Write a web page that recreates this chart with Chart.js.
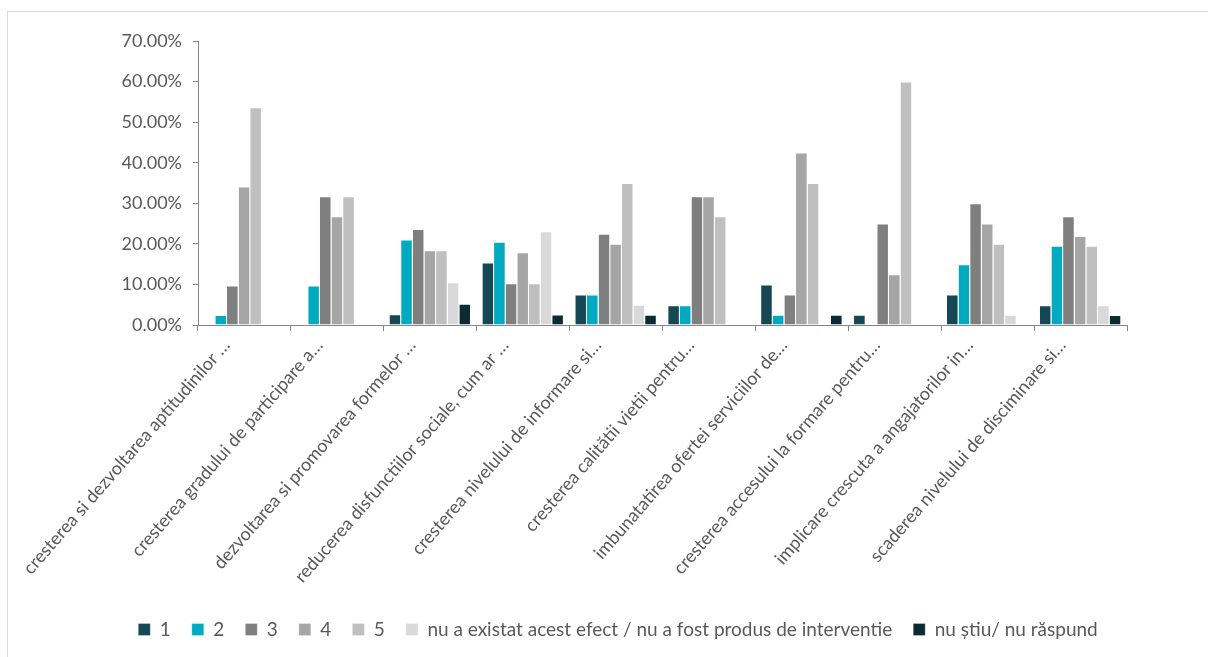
<!DOCTYPE html>
<html>
<head>
<meta charset="utf-8">
<script src="https://cdn.jsdelivr.net/npm/chart.js@4.4.1/dist/chart.umd.min.js"></script>
<style>
  body { margin: 0; background: #fff; }
  #frame { position: absolute; left: 7px; top: 11px; width: 1220px; height: 700px;
           border-left: 1px solid #d9d9d9; border-top: 1px solid #d9d9d9; }
  #wrap { position: absolute; left: 0; top: 0; width: 1208px; height: 657px; }
</style>
</head>
<body>
<div id="frame"></div>
<div id="wrap"><canvas id="myChart"></canvas></div>
<script>
// categories along the x-axis (as shown, truncated)
var categories = [
  "cresterea si dezvoltarea aptitudinilor …",
  "cresterea gradului de participare a…",
  "dezvoltarea si promovarea formelor …",
  "reducerea disfunctiilor sociale, cum ar …",
  "cresterea nivelului de informare si…",
  "cresterea calitătii vietii pentru…",
  "imbunatatirea ofertei serviciilor de…",
  "cresterea accesului la formare pentru…",
  "implicare crescuta a angajatorilor in…",
  "scaderea nivelului de disciminare si…"
];

// percentages per answer
var score1 = [null, null, 2.63, 15.38, 7.5, 4.88, 10, 2.5, 7.5, 4.88];
var score2 = [2.44, 9.76, 21.05, 20.51, 7.5, 4.88, 2.5, null, 15, 19.51];
var score3 = [9.76, 31.71, 23.68, 10.26, 22.5, 31.71, 7.5, 25, 30, 26.83];
var score4 = [34.15, 26.83, 18.42, 17.95, 20, 31.71, 42.5, 12.5, 25, 21.95];
var score5 = [53.66, 31.71, 18.42, 10.26, 35, 26.83, 35, 60, 20, 19.51];
var noEffect = [null, null, 10.53, 23.08, 5, null, null, null, 2.5, 4.88];
var dontKnow = [null, null, 5.26, 2.56, 2.5, null, 2.5, null, null, 2.44];

var yTicks = [0, 10, 20, 30, 40, 50, 60, 70];

var font = "Lato, 'Open Sans', sans-serif";
var textColor = "#595959";
var axisColor = "#868686";

function ds(label, values, color) {
  return {
    label: label,
    data: values,
    backgroundColor: color,
    borderColor: "rgba(255,255,255,0.6)",
    borderWidth: { top: 1, right: 1, left: 0, bottom: 0 },
    borderSkipped: "bottom",
    categoryPercentage: 0.877,
    barPercentage: 1.0
  };
}

const data = {
  labels: categories,
  datasets: [
    ds("1", score1, "#164754"),
    ds("2", score2, "#00abc1"),
    ds("3", score3, "#7f7f7f"),
    ds("4", score4, "#a5a5a5"),
    ds("5", score5, "#bfbfbf"),
    ds("nu a existat acest efect / nu a fost produs de interventie", noEffect, "#d9d9d9"),
    ds("nu știu/ nu răspund", dontKnow, "#0b2b34")
  ]
};

const config = {
  type: "bar",
  data,
  options: {
    responsive: true,
    maintainAspectRatio: false,
    animation: false,
    layout: { padding: { left: 109, right: 81, top: 41, bottom: 8 } },
    plugins: {
      tooltip: { enabled: false },
      legend: {
        position: "bottom",
        labels: {
          boxWidth: 12,
          boxHeight: 12,
          padding: 21,
          color: textColor,
          font: { family: font, size: 19 }
        }
      }
    },
    scales: {
      x: {
        grid: { display: true, drawOnChartArea: false, offset: true, tickLength: 6, tickColor: axisColor },
        border: { display: true, color: axisColor, width: 1 },
        ticks: {
          autoSkip: false,
          maxRotation: 49,
          minRotation: 49,
          padding: 4,
          labelOffset: -18,
          color: textColor,
          font: { family: font, size: 18 }
        },
        afterFit: function (scale) { scale.height = 274; }
      },
      y: {
        min: 0,
        max: 70,
        afterBuildTicks: function (scale) {
          scale.ticks = yTicks.map(function (v) { return { value: v }; });
        },
        grid: { display: true, drawOnChartArea: false, tickLength: 5, tickColor: axisColor },
        border: { display: true, color: axisColor, width: 1 },
        ticks: {
          padding: 11,
          color: textColor,
          font: { family: font, size: 18 },
          callback: function (v) { return v.toFixed(2) + "%"; }
        },
        afterFit: function (scale) { scale.width = 89; }
      }
    }
  }
};

const myChart = new Chart(document.getElementById("myChart"), config);
</script>
</body>
</html>
